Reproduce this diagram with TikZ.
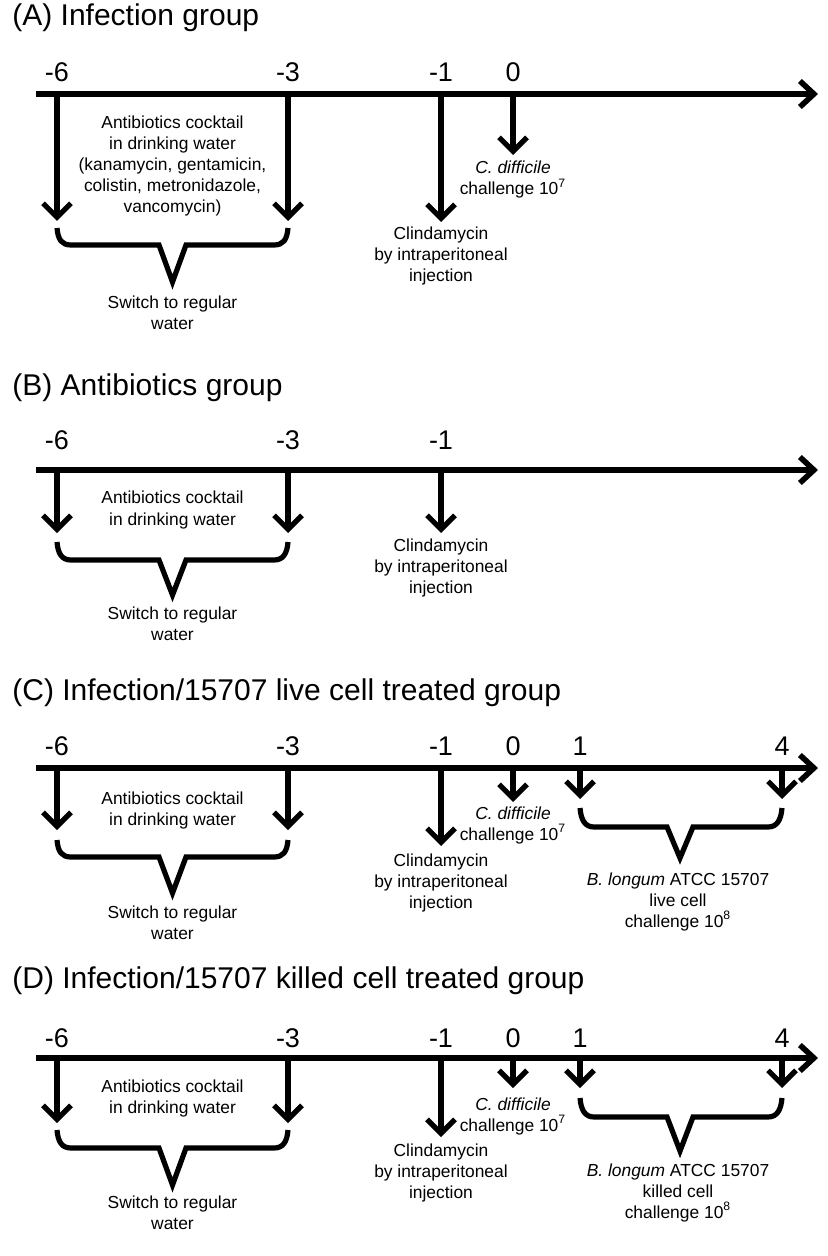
\documentclass[tikz,border=0pt]{standalone}
\usepackage{fontspec}
\setmainfont{Liberation Sans}
\usetikzlibrary{arrows.meta}

\begin{document}
\begin{tikzpicture}[x=0.5pt,y=-0.5pt,
    axis/.style={line width=2.8pt,-{Straight Barb[length=7pt,width=13pt]}},
    down/.style={line width=2.6pt,-{Straight Barb[length=7pt,width=14pt]}},
    brc/.style={line width=2.6pt,line join=miter},
    ttl/.style={anchor=base west,inner sep=0pt,font=\fontsize{15}{18}\selectfont},
    num/.style={anchor=base,inner sep=0pt,font=\fontsize{13.5}{16}\selectfont},
    txt/.style={align=center,inner sep=0pt,font=\fontsize{8.7}{10.5}\selectfont}]
        \useasboundingbox (0,0) rectangle (827,1256);
        \begin{scope}[shift={(0,94)}]
          \node[ttl] (T) at (12,-68) {(A) Infection group};
          \coordinate (L) at (36,0);
          \coordinate (R) at (818,0);
          \draw[axis] (L) -- (R);
          \node[num] (d6) at (57,-12) {-6};
          \node[num] (d3) at (288,-12) {-3};
          \node[num] (d1) at (441,-12) {-1};
          \node[num] (d0) at (513,-12) {0};
          \coordinate (a6) at (57,0);   \coordinate (e6) at (57,127);
          \coordinate (a3) at (288,0);  \coordinate (e3) at (288,127);
          \coordinate (a1) at (441,0);  \coordinate (e1) at (441,128);
          \coordinate (a0) at (513,0);  \coordinate (e0) at (513,61);
          \draw[down] (a6) -- (e6);
          \draw[down] (a3) -- (e3);
          \draw[down] (a1) -- (e1);
          \draw[down] (a0) -- (e0);
          \node[txt] (abx) at (172.5,72) {Antibiotics cocktail\\in drinking water\\(kanamycin, gentamicin,\\colistin, metronidazole,\\vancomycin)};
          \draw[brc] (57,134) .. controls (58,146) and (62,151) .. (71,151) -- (159,151) -- (172.5,188)
            -- (186,151) -- (274,151) .. controls (283,151) and (287,146) .. (288,134);
          \node[txt] (sw) at (172.5,219) {Switch to regular\\water};
          \node[txt] (cl) at (441,162) {Clindamycin\\by intraperitoneal\\injection};
          \node[txt] (cd) at (513,86) {\textit{C. difficile}\\challenge 10\textsuperscript{7}};
        \end{scope}
        %%
        \begin{scope}[shift={(0,470)}]
          \node[ttl] (T) at (12,-74) {(B) Antibiotics group};
          \coordinate (L) at (36,0);
          \coordinate (R) at (818,0);
          \draw[axis] (L) -- (R);
          \node[num] (d6) at (57,-21) {-6};
          \node[num] (d3) at (288,-21) {-3};
          \node[num] (d1) at (441,-21) {-1};
          \coordinate (a6) at (57,0);   \coordinate (e6) at (57,63);
          \coordinate (a3) at (288,0);  \coordinate (e3) at (288,63);
          \coordinate (a1) at (441,0);  \coordinate (e1) at (441,63);
          \draw[down] (a6) -- (e6);
          \draw[down] (a3) -- (e3);
          \draw[down] (a1) -- (e1);
          \node[txt] (abx) at (172.5,40) {Antibiotics cocktail\\in drinking water};
          \draw[brc] (57,72) .. controls (58,84) and (62,90) .. (71,90) -- (159,90) -- (172.5,125)
            -- (186,90) -- (274,90) .. controls (283,90) and (287,84) .. (288,72);
          \node[txt] (sw) at (172.5,154) {Switch to regular\\water};
          \node[txt] (cl) at (441,98) {Clindamycin\\by intraperitoneal\\injection};
        \end{scope}
        %%
        \begin{scope}[shift={(0,768)}]
          \node[ttl] (T) at (12,-68) {(C) Infection/15707 live cell treated group};
          \coordinate (L) at (36,0);
          \coordinate (R) at (818,0);
          \draw[axis] (L) -- (R);
          \node[num] (d6) at (57,-13) {-6};
          \node[num] (d3) at (288,-13) {-3};
          \node[num] (d1) at (441,-13) {-1};
          \node[num] (d0) at (513,-13) {0};
          \node[num] (p1) at (580,-13) {1};
          \node[num] (p4) at (782,-13) {4};
          \coordinate (a6) at (57,0);   \coordinate (e6) at (57,62);
          \coordinate (a3) at (288,0);  \coordinate (e3) at (288,62);
          \coordinate (a1) at (441,0);  \coordinate (e1) at (441,78);
          \coordinate (a0) at (513,0);  \coordinate (e0) at (513,34);
          \coordinate (b1) at (580,0);  \coordinate (f1) at (580,31);
          \coordinate (b4) at (782,0);  \coordinate (f4) at (782,31);
          \draw[down] (a6) -- (e6);
          \draw[down] (a3) -- (e3);
          \draw[down] (a1) -- (e1);
          \draw[down] (a0) -- (e0);
          \draw[down] (b1) -- (f1);
          \draw[down] (b4) -- (f4);
          \node[txt] (abx) at (172.5,42) {Antibiotics cocktail\\in drinking water};
          \draw[brc] (57,72) .. controls (58,84) and (62,89) .. (71,89) -- (159,89) -- (172.5,125)
            -- (186,89) -- (274,89) .. controls (283,89) and (287,84) .. (288,72);
          \node[txt] (sw) at (172.5,155) {Switch to regular\\water};
          \node[txt] (cl) at (441,115) {Clindamycin\\by intraperitoneal\\injection};
          \node[txt] (cd) at (513,57) {\textit{C. difficile}\\challenge 10\textsuperscript{7}};
          \draw[brc] (580,40) .. controls (581,52) and (585,59) .. (594,59) -- (667,59) -- (680,90)
            -- (693,59) -- (768,59) .. controls (777,59) and (781,52) .. (782,40);
          \node[txt] (bl) at (678,134) {\textit{B. longum} ATCC 15707\\live cell\\challenge 10\textsuperscript{8}};
        \end{scope}
        %%
        \begin{scope}[shift={(0,1058)}]
          \node[ttl] (T) at (12,-70) {(D) Infection/15707 killed cell treated group};
          \coordinate (L) at (36,0);
          \coordinate (R) at (818,0);
          \draw[axis] (L) -- (R);
          \node[num] (d6) at (57,-11) {-6};
          \node[num] (d3) at (288,-11) {-3};
          \node[num] (d1) at (441,-11) {-1};
          \node[num] (d0) at (513,-11) {0};
          \node[num] (p1) at (580,-11) {1};
          \node[num] (p4) at (782,-11) {4};
          \coordinate (a6) at (57,0);   \coordinate (e6) at (57,65);
          \coordinate (a3) at (288,0);  \coordinate (e3) at (288,65);
          \coordinate (a1) at (441,0);  \coordinate (e1) at (441,79);
          \coordinate (a0) at (513,0);  \coordinate (e0) at (513,30);
          \coordinate (b1) at (580,0);  \coordinate (f1) at (580,30);
          \coordinate (b4) at (782,0);  \coordinate (f4) at (782,30);
          \draw[down] (a6) -- (e6);
          \draw[down] (a3) -- (e3);
          \draw[down] (a1) -- (e1);
          \draw[down] (a0) -- (e0);
          \draw[down] (b1) -- (f1);
          \draw[down] (b4) -- (f4);
          \node[txt] (abx) at (172.5,40) {Antibiotics cocktail\\in drinking water};
          \draw[brc] (57,72) .. controls (58,84) and (62,90) .. (71,90) -- (159,90) -- (172.5,127)
            -- (186,90) -- (274,90) .. controls (283,90) and (287,84) .. (288,72);
          \node[txt] (sw) at (172.5,155) {Switch to regular\\water};
          \node[txt] (cl) at (441,115) {Clindamycin\\by intraperitoneal\\injection};
          \node[txt] (cd) at (513,58) {\textit{C. difficile}\\challenge 10\textsuperscript{7}};
          \draw[brc] (580,40) .. controls (581,52) and (585,59) .. (594,59) -- (667,59) -- (680,93)
            -- (693,59) -- (768,59) .. controls (777,59) and (781,52) .. (782,40);
          \node[txt] (bl) at (678,135) {\textit{B. longum} ATCC 15707\\killed cell\\challenge 10\textsuperscript{8}};
        \end{scope}
    \end{tikzpicture}
\end{document}
